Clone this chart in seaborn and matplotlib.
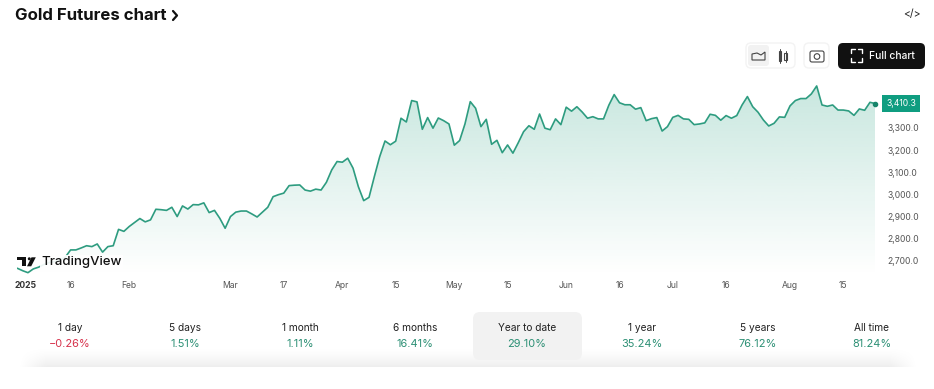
import numpy as np
import pandas as pd
import matplotlib
matplotlib.use("Agg")
import matplotlib.pyplot as plt
from matplotlib.patches import FancyBboxPatch, Rectangle, Polygon, Circle
import seaborn as sns

prices = [
 2665,2654,2645,2662,2670,2682,2691,2695,2703,2715,2748,2748,2757,2767,2763,2775,2738,2763,2767,2841,
 2832,2854,2872,2890,2875,2884,2932,2930,2927,2941,2899,2947,2933,2953,2952,2961,2917,2927,2891,2846,
 2899,2919,2924,2924,2911,2897,2919,2941,2989,2998,3005,3039,3041,3042,3019,3014,
 3023,3019,3054,3110,3148,3145,3163,3118,3034,2971,2986,3080,3170,3241,
 3224,3240,3344,3327,3424,3418,3294,3347,3299,3345,3333,3318,3222,3243,3318,3419,3389,3306,3339,3226,
 3244,3188,3223,3186,3233,3283,3310,3294,3363,3299,3292,3341,3315,3394,3376,3396,3372,3344,3351,3341,
 3341,3403,3451,
 3414,3405,3405,3385,3392,3333,3342,3347,3286,3306,3348,3357,3341,3339,3315,3318,3323,3362,3357,3335,
 3356,3344,3356,3404,3442,3396,3371,3336,3309,3321,3350,3348,3400,3424,3433,3433,3454,3490,3404,3398,
 3404,3381,3381,3377,3357,3386,3380,3416,3410.3]
y_ticks = [2700, 2800, 2900, 3000, 3100, 3200, 3300]
x_tick_index = [1.5, 10, 21, 40, 50, 61, 71, 82, 92, 103, 113, 123, 133, 145, 155]
x_tick_labels = ["2025", "16", "Feb", "Mar", "17", "Apr", "15", "May", "15", "Jun", "16", "Jul", "16", "Aug", "15"]
last_label = "3,410.3"
periods = ["1 day", "5 days", "1 month", "6 months", "Year to date", "1 year", "5 years", "All time"]
changes = ["\u22120.26%", "1.51%", "1.11%", "16.41%", "29.10%", "35.24%", "76.12%", "81.24%"]

GREEN = "#2e9c80"
sns.set_theme(style="white")
plt.rcParams["font.family"] = ["Inter", "DejaVu Sans"]

W, H = 934, 389
fig = plt.figure(figsize=(W / 100, H / 100), dpi=100, facecolor="white")
top_px, bot_px, left_px, right_px = 80, 275, 17.3, 875.3
ax = fig.add_axes([left_px / W, 1 - bot_px / H, (right_px - left_px) / W, (bot_px - top_px) / H])
ylim = (2634.5, 3517)
df = pd.DataFrame({"i": np.arange(len(prices)), "price": prices})

sns.lineplot(data=df, x="i", y="price", ax=ax, color=GREEN, linewidth=1.2, zorder=3)
poly = ax.fill_between(df["i"], df["price"], ylim[0], color="none")
rgba = np.zeros((256, 1, 4))
rgba[..., :3] = matplotlib.colors.to_rgb("#1f9d7c")
rgba[..., 3] = np.linspace(0.25, 0.0, 256)[:, None]
im = ax.imshow(rgba, extent=[0, len(prices) - 1, ylim[0], ylim[1]], origin="upper", aspect="auto", zorder=1)
im.set_clip_path(poly.get_paths()[0], transform=ax.transData)
ax.set_xlim(0, len(prices) - 1)
ax.set_ylim(*ylim)
ax.set_xlabel(""); ax.set_ylabel("")
sns.despine(ax=ax, left=True, bottom=True, right=True, top=True)
ax.yaxis.tick_right()
ax.set_yticks(y_ticks, [f"{v:,.1f}" for v in y_ticks], fontsize=6.2, color="#555555")
ax.set_xticks(x_tick_index, x_tick_labels, fontsize=6.2, color="#555555")
ax.tick_params(axis="both", length=0)
ax.tick_params(axis="y", pad=9)
ax.tick_params(axis="x", pad=4.5)
ax.get_xticklabels()[0].set_fontweight("bold")
ax.get_xticklabels()[0].set_color("#333333")
ax.plot(df["i"].iloc[-1], prices[-1], "o", ms=3, color="#16846a", clip_on=False, zorder=4)
ax.annotate(last_label, xy=(1, prices[-1]), xycoords=("axes fraction", "data"), xytext=(26, 0),
            textcoords="offset pixels", ha="center", va="center", fontsize=6.2, color="white", zorder=5,
            annotation_clip=False,
            bbox=dict(boxstyle="square,pad=0.45", fc="#0f9d80", ec="none"))

# page furniture, in pixel coordinates
ui = fig.add_axes([0, 0, 1, 1], facecolor="none")
ui.set_xlim(0, W); ui.set_ylim(H, 0); ui.axis("off")
ui.text(15, 15, "Gold Futures chart", fontsize=12.1, fontweight="bold", color="#111111", va="center")
ui.plot([173, 177, 173], [11, 15.5, 20], color="#111111", lw=1.6)
ui.text(911.5, 14, "</>", fontsize=7.5, color="#222222", ha="center", va="center")

def box(x0, y0, x1, y1, r, **kw):
    ui.add_patch(FancyBboxPatch((x0 + r, y0 + r), x1 - x0 - 2 * r, y1 - y0 - 2 * r,
                                boxstyle=f"round,pad={r}", **kw))

box(746, 43, 795, 68, 5, fc="white", ec="#f3f3f3", lw=1)
box(748, 45, 769, 66, 3, fc="#f2f2f2", ec="none")
box(804, 43, 829, 68, 5, fc="white", ec="#f3f3f3", lw=1)
box(838, 43, 925, 69, 5, fc="#111111", ec="none")
ui.add_patch(Polygon([(752, 60), (752, 54), (757, 53), (761, 55), (765, 52), (765, 60)],
                     closed=True, fc="none", ec="#444444", lw=0.8))
for cx, top, bot in [(780, 51, 61), (785.5, 53, 60)]:
    ui.add_patch(Rectangle((cx - 1.4, top), 2.8, bot - top, fc="none", ec="#444444", lw=0.8))
    ui.plot([cx, cx], [top - 2, bot + 2], color="#444444", lw=0.7)
box(810, 51, 824, 62, 2, fc="none", ec="#444444", lw=0.8)
ui.add_patch(Circle((817, 56.5), 2.8, fc="none", ec="#444444", lw=0.8))
for sx, sy, cx, cy in [(1, 1, 851, 49), (-1, 1, 862, 49), (1, -1, 851, 62), (-1, -1, 862, 62)]:
    ui.plot([cx, cx, cx + sx * 4], [cy + sy * 4, cy, cy], color="white", lw=1.0)
ui.text(891.5, 56, "Full chart", fontsize=7.4, color="white", ha="center", va="center", fontweight="medium")

# TradingView mark
ui.add_patch(Rectangle((16.7, 257.3), 9.5, 2.8, fc="#111111", ec="none", zorder=6))
ui.add_patch(Rectangle((21.7, 257.3), 4.5, 9, fc="#111111", ec="none", zorder=6))
ui.add_patch(Circle((29.3, 258.8), 1.5, fc="#111111", ec="none", zorder=6))
ui.add_patch(Polygon([(31.5, 257.3), (35.8, 257.3), (31.2, 266.3), (27, 266.3)], fc="#111111", ec="none", zorder=6))
ui.text(41, 262, "TradingView", fontsize=9.5, fontweight="medium", color="#111111", va="center", zorder=6,
        bbox=dict(boxstyle="square,pad=0.08", fc="white", ec="none", alpha=0.92))

# bottom strip: soft shadow that fades sideways and stops at a hard lower edge
fade_x = np.clip(np.minimum(np.linspace(0, 1, 512), np.linspace(1, 0, 512)) / 0.03, 0, 1)
fade_y = np.linspace(0, 1, 128) ** 1.6
shade = np.zeros((128, 512, 4))
shade[..., 3] = 0.07 * np.outer(fade_y, fade_x)
ui.imshow(shade, extent=[18, 918, 367, 345], aspect="auto", zorder=1)
ui.set_xlim(0, W); ui.set_ylim(H, 0)
box(473, 312, 582, 360, 7, fc="#f2f2f2", ec="none", zorder=2)
centers = [70, 185, 300, 415, 527, 642, 758, 872]
for cx, p, c in zip(centers, periods, changes):
    col = "#d6304a" if c.startswith("\u2212") else "#2b8f74"
    ui.text(cx, 328, p, fontsize=7.3, color="#222222", ha="center", va="center", zorder=3)
    ui.text(cx, 344, c, fontsize=7.9, color=col, ha="center", va="center", zorder=3)

fig.savefig("out.png", dpi=100)
